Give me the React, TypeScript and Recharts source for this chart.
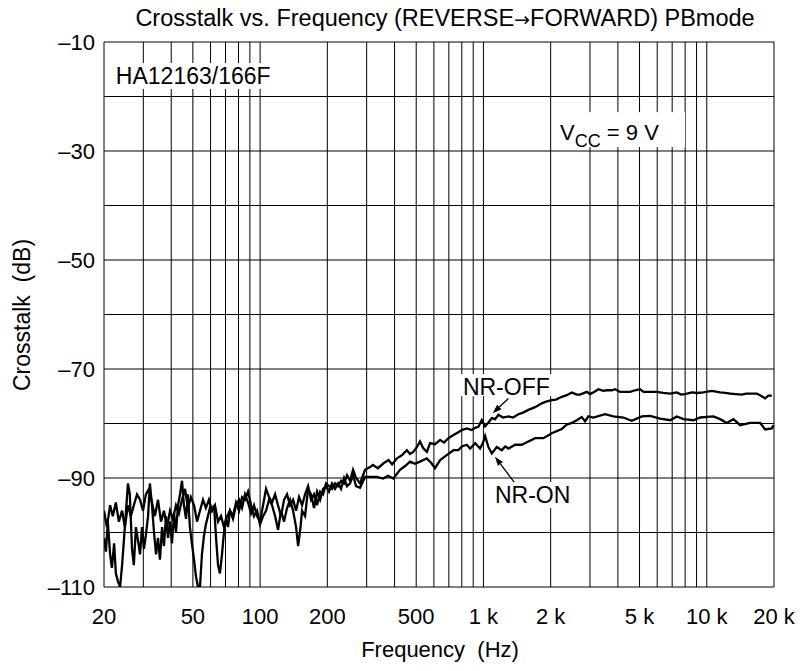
import { LineChart, Line, XAxis, YAxis, CartesianGrid, ReferenceLine, ReferenceDot } from 'recharts'

const FONT = '"Liberation Sans", Arial, Helvetica, sans-serif'

// grid lines on the log axis, labels only on some of them
const gridFreqs = [20, 30, 40, 50, 60, 70, 80, 90, 100, 200, 300, 400, 500, 600, 700, 800, 900, 1000, 2000, 3000, 4000, 5000, 6000, 7000, 8000, 9000, 10000, 20000]
const labeledFreqs = [20, 50, 100, 200, 500, 1000, 2000, 5000, 10000, 20000]
const dbTicks = [-110, -100, -90, -80, -70, -60, -50, -40, -30, -20, -10]
const labeledDb = [-110, -90, -70, -50, -30, -10]

// NR-OFF (Hz, dB)
const offFreq = [
    20.0, 20.6, 21.3, 21.9, 22.6, 23.3, 24.1, 24.8, 25.6, 26.4, 27.2, 28.1, 29.0, 29.9, 30.8, 31.8, 32.8, 33.8, 34.9, 36.0,
    37.1, 38.3, 39.5, 40.7, 42.0, 43.3, 44.7, 46.1, 47.5, 49.0, 50.6, 52.2, 53.8, 55.5, 57.2, 59.0, 60.9, 62.8, 64.8, 66.8,
    68.9, 71.1, 73.3, 75.6, 78.0, 80.5, 83.0, 85.6, 88.3, 91.1, 93.9, 96.9, 99.9, 103.1, 106.3, 109.7, 113.1, 116.7, 120.3, 124.1,
    128.0, 132.0, 136.2, 140.5, 144.9, 149.4, 154.1, 159.0, 164.0, 169.1, 174.4, 179.9, 185.6, 191.4, 197.4, 203.5, 209.9, 216.5, 223.3, 230.4,
    237.6, 245.1, 252.8, 260.7, 268.9, 280.2, 295.1, 310.7, 320, 337, 357, 376, 390, 410, 432, 454, 469, 485, 504, 520,
    537, 558, 577, 607, 640, 666, 697, 734, 772, 800, 842, 887, 918, 949, 983, 1017, 1049, 1090, 1128, 1167,
    1225, 1294, 1357, 1434, 1505, 1590, 1704, 1825, 1907, 2023, 2114, 2243, 2362, 2487, 2618, 2708, 2902, 3003, 3129, 3271,
    3444, 3577, 3756, 3886, 4092, 4537, 4777, 5030, 5204, 5577, 5974, 6374, 6855, 7342, 7674, 8001, 8572, 9053, 9662, 10536,
    11479, 12086, 12726, 13533, 14354, 15008, 15641, 16752, 17636, 18259, 18878, 19552,
]
const offDb = [
    -96, -99, -95, -97, -94.5, -98, -96, -99, -95, -97, -95, -93, -94, -96, -93, -92, -94.5, -97, -94, -98,
    -96, -99, -96, -97.5, -95, -96.5, -94, -92, -95.5, -93.5, -95, -98, -96, -94, -95.5, -94, -96, -95, -98, -97,
    -99, -97, -96, -97.5, -95, -94, -95.5, -93, -94.5, -96.5, -95, -97, -98, -95, -92, -93.5, -94.5, -93, -95, -97,
    -94, -93, -95, -94, -96, -93.5, -95, -93, -91.5, -94, -93, -95, -92.5, -93, -91, -91.5, -92, -91, -91.5, -90.5,
    -91, -89.5, -90.5, -88.5, -90, -91, -88.5, -88, -87.6, -88.2, -87.3, -86.7, -87.5, -86.4, -85.8, -84.9, -85.6, -85.2, -84.3, -83.3,
    -84.5, -85.2, -83.6, -83.8, -83.0, -83.5, -82.7, -82.1, -81.6, -81.2, -80.9, -81.2, -80.8, -80.6, -79.4, -80.5, -79.9, -79.0, -79.2, -78.4,
    -78.9, -78.7, -78.9, -78.3, -78.0, -77.5, -77.0, -76.3, -76.0, -75.7, -75.6, -75.1, -74.8, -74.3, -74.7, -74.7, -74.2, -74.6, -74.2, -73.7,
    -74.0, -73.9, -73.9, -73.7, -74.2, -74.2, -73.9, -73.7, -74.2, -74.2, -74.2, -74.4, -74.5, -74.3, -74.7, -74.6, -74.3, -74.4, -74.3, -74.0,
    -74.3, -74.4, -74.5, -74.6, -74.7, -74.5, -74.5, -74.5, -75.0, -75.4, -74.9, -74.9,
]

// NR-ON (Hz, dB)
const onFreq = [
    20.0, 20.4, 20.8, 21.3, 21.7, 22.2, 22.6, 23.1, 23.6, 24.1, 24.6, 25.1, 25.6, 26.1, 26.7, 27.2, 27.8, 28.4, 29.0, 29.6,
    30.2, 30.8, 31.5, 32.1, 32.8, 33.5, 34.2, 34.9, 35.6, 36.4, 37.1, 37.9, 38.7, 39.5, 40.3, 41.2, 42.0, 42.9, 43.8, 44.7,
    45.6, 46.6, 47.5, 48.5, 49.5, 50.6, 51.6, 52.7, 53.8, 54.9, 56.1, 57.2, 58.4, 59.6, 60.9, 62.2, 63.5, 64.8, 66.1, 67.5,
    68.9, 70.3, 71.8, 73.3, 75.6, 78.0, 80.5, 83.0, 85.6, 88.3, 91.1, 93.9, 96.9, 99.9, 103.1, 106.3, 109.7, 113.1, 116.7, 120.3,
    124.1, 128.0, 132.0, 136.2, 140.5, 144.9, 148, 151.7, 154.1, 159.0, 164.0, 169.1, 174.4, 179.9, 185.6, 191.4, 197.4, 203.5, 209.9, 216.5,
    223.3, 230.4, 237.6, 245.1, 252.8, 260.7, 268.9, 280.2, 295.1, 310.7, 333, 356, 374, 395, 423, 446, 469, 494, 520, 557,
    583, 607, 640, 685, 734, 772, 800, 842, 872, 918, 966, 996, 1017, 1052, 1090, 1147, 1208, 1251, 1294, 1386,
    1485, 1590, 1704, 1855, 2023, 2243, 2362, 2487, 2618, 2757, 2852, 2950, 3106, 3505, 3819, 4234, 4617, 5117, 5577, 6183,
    6855, 7342, 7857, 8714, 9339, 10710, 11479, 12298, 13158, 14108, 15641, 17341, 18259, 19552, 19876,
]
const onDb = [
    -101, -103.5, -98, -104, -106.5, -102, -107.5, -109, -110, -106, -101, -96, -91, -93, -103, -106, -99, -101.5, -104, -99,
    -103, -100.5, -97, -91, -95, -100, -104, -101, -105, -99, -102.5, -97, -101, -98, -102, -96.5, -100, -95, -93, -90.5,
    -95, -97.5, -93, -99, -102, -105, -108, -110, -110, -104, -100.5, -98.5, -97, -95.5, -96, -95, -101, -106, -107.5, -104,
    -100, -97.5, -99, -96, -97, -94.5, -96, -93.5, -94, -92.5, -95, -97, -96, -98.5, -97, -96, -94, -95, -97, -99.5,
    -96, -98, -95.5, -94, -96, -99, -102.5, -99, -96, -97, -92, -93, -95.5, -92.5, -94, -92, -91.5, -92.5, -91, -92,
    -91, -92, -90, -91.5, -91, -89.5, -91.5, -91.8, -89.8, -89.8, -89.8, -90.1, -89.6, -90.1, -88.5, -87.8, -87.0, -87.4, -87.0, -86.4,
    -87.2, -88.2, -86.7, -85.8, -84.9, -84.9, -84.2, -83.9, -84.6, -83.6, -84.6, -83.5, -82.3, -84.3, -85.5, -84.3, -84.9, -84.2, -84.6, -83.9,
    -83.9, -83.3, -82.7, -82.7, -81.8, -81.0, -80.2, -79.9, -79.4, -78.8, -79.6, -78.7, -78.9, -78.3, -78.7, -78.9, -79.5, -78.7, -78.6, -79.1,
    -79.4, -78.7, -79.2, -79.4, -78.9, -78.7, -79.2, -79.9, -79.2, -80.3, -79.9, -79.9, -81.1, -80.9, -80.3,
]

const offData = offFreq.map((f, i) => ({ f, db: offDb[i] }))
const onData = onFreq.map((f, i) => ({ f, db: onDb[i] }))

const fmtFreq = (v: number) => {
    if (!labeledFreqs.includes(v)) return ''
    return v >= 1000 ? `${v / 1000} k` : `${v}`
}
const fmtDb = (v: number) => (labeledDb.includes(v) ? `\u2013${Math.abs(v)}` : '')

// arrow used by the NR-OFF / NR-ON callouts
const Arrow = (props: any) => {
    const { x1, y1, x2, y2 } = props
    const ang = Math.atan2(y2 - y1, x2 - x1)
    const len = 9
    const half = 3.2
    const bx = x2 - len * Math.cos(ang)
    const by = y2 - len * Math.sin(ang)
    const px = -Math.sin(ang) * half
    const py = Math.cos(ang) * half
    return (
        <g>
            <line x1={x1} y1={y1} x2={bx} y2={by} stroke="#000" strokeWidth={1.3} />
            <polygon points={`${x2},${y2} ${bx + px},${by + py} ${bx - px},${by - py}`} fill="#000" />
        </g>
    )
}

const boxedText = (text: string, w: number, below = 5, pad = 5) => (props: any) => {
    const { cx, cy } = props
    return (
        <g>
            <rect x={cx - pad} y={cy - 21} width={w} height={21 + below} fill="#fff" />
            <text x={cx} y={cy} fontSize={23} fontFamily={FONT} fill="#000">{text}</text>
        </g>
    )
}

const VccLabel = (props: any) => {
    const { cx, cy } = props
    return (
        <g>
            <rect x={cx - 5} y={cy - 28} width={130} height={35} fill="#fff" />
            <text x={cx} y={cy} fontSize={22} fontFamily={FONT} fill="#000">
                V<tspan fontSize={18} dy={7}>CC</tspan>
                <tspan dy={-7}> = 9 V</tspan>
            </text>
        </g>
    )
}

export default function App() {
    return (
        <div style={{ position: 'absolute', left: 0, top: 0, width: 802, height: 671, background: '#fff' }}>
            <LineChart width={802} height={671} data={offData} margin={{ top: 42, right: 28, bottom: 0, left: 0 }}>
                <CartesianGrid stroke="#000" strokeWidth={1} />
                <XAxis
                    dataKey="f"
                    type="number"
                    scale="log"
                    domain={[20, 20000]}
                    ticks={gridFreqs}
                    interval={0}
                    tickFormatter={fmtFreq}
                    tickLine={false}
                    axisLine={false}
                    tickSize={0}
                    tickMargin={21}
                    height={84}
                    allowDataOverflow
                    tick={{ fill: '#000', fontSize: 22, fontFamily: FONT }}
                />
                <YAxis
                    type="number"
                    domain={[-110, -10]}
                    ticks={dbTicks}
                    interval={0}
                    tickFormatter={fmtDb}
                    tickLine={false}
                    axisLine={false}
                    tickSize={0}
                    tickMargin={9}
                    width={104}
                    allowDataOverflow
                    tick={{ fill: '#000', fontSize: 22, fontFamily: FONT }}
                />
                <ReferenceDot x={22.6} y={-17.7} r={0} shape={boxedText('HA12163/166F', 168)} />
                <ReferenceDot x={2203} y={-28.0} r={0} shape={VccLabel} />
                <ReferenceDot x={809} y={-74.8} r={0} shape={boxedText('NR-OFF', 95, 1)} />
                <ReferenceDot x={1126} y={-94.6} r={0} shape={boxedText('NR-ON', 86)} />
                <Line data={offData} dataKey="db" type="linear" stroke="#000" strokeWidth={2.3} dot={false} isAnimationActive={false} />
                <Line data={onData} dataKey="db" type="linear" stroke="#000" strokeWidth={2.3} dot={false} isAnimationActive={false} />
                <ReferenceLine segment={[{ x: 1294, y: -75.4 }, { x: 1101, y: -78.1 }]} shape={Arrow} />
                <ReferenceLine segment={[{ x: 1386, y: -91.0 }, { x: 1126, y: -86.1 }]} shape={Arrow} />
            </LineChart>
            <svg width={802} height={671} style={{ position: 'absolute', left: 0, top: 0, pointerEvents: 'none' }}>
                <text x={445} y={26} textAnchor="middle" fontSize={23.5} fontFamily={FONT} fill="#000">
                    Crosstalk vs. Frequency (REVERSE<tspan fontFamily='"DejaVu Sans", sans-serif' fontSize={19}>{'\u2192'}</tspan>FORWARD) PBmode
                </text>
                <text x={440} y={657} textAnchor="middle" fontSize={22} fontFamily={FONT} fill="#000" style={{ whiteSpace: 'pre' }}>
                    Frequency  (Hz)
                </text>
                <text transform="translate(30,315) rotate(-90)" textAnchor="middle" fontSize={23} fontFamily={FONT} fill="#000" style={{ whiteSpace: 'pre' }}>
                    Crosstalk  (dB)
                </text>
            </svg>
        </div>
    )
}
